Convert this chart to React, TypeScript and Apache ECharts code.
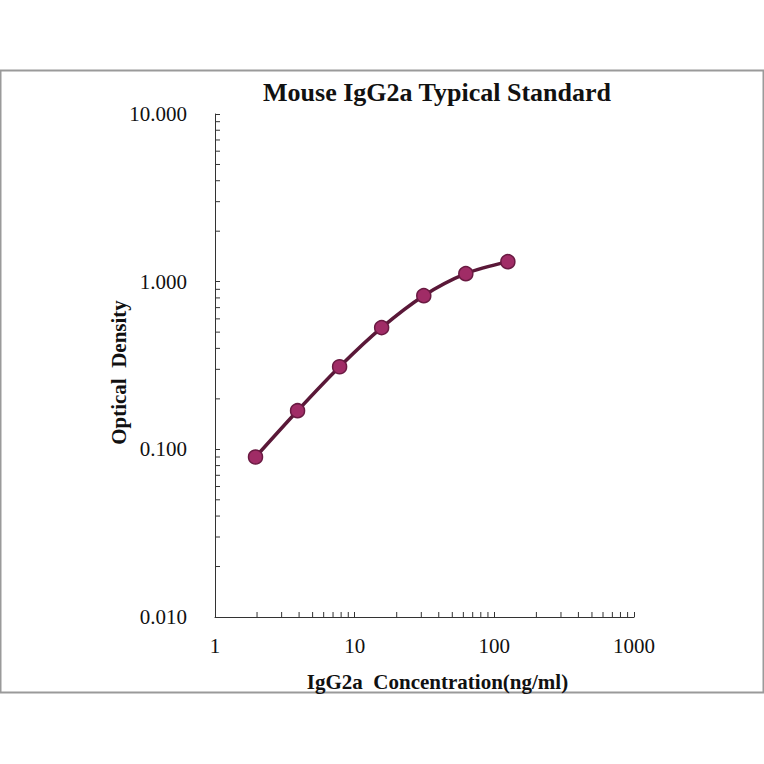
import React, { useEffect, useRef } from "react";
import * as echarts from "echarts";

const concentrations = [1.95, 3.9, 7.8, 15.6, 31.25, 62.5, 125];
const opticalDensity = [0.09, 0.17, 0.311, 0.532, 0.825, 1.116, 1.316];
const xMinorTicks = [2, 3, 4, 5, 6, 7, 8, 9, 20, 30, 40, 50, 60, 70, 80, 90, 200, 300, 400, 500, 600, 700, 800, 900];
const yMinorTicks = [0.02, 0.03, 0.04, 0.05, 0.06, 0.07, 0.08, 0.09, 0.2, 0.3, 0.4, 0.5, 0.6, 0.7, 0.8, 0.9, 2, 3, 4, 5, 6, 7, 8, 9];

const titleText = "Mouse IgG2a Typical Standard";
const xName = "IgG2a  Concentration(ng/ml)";
const yName = "Optical  Density";

const FONT = "'Liberation Serif', 'Times New Roman', serif";

export default function App() {
  const ref = useRef<HTMLDivElement>(null);
  useEffect(() => {
    if (!ref.current) return;
    const chart = echarts.init(ref.current, null, { renderer: "svg" });
    const tickColor = "#333";
    chart.setOption({
      animation: false,
      backgroundColor: "#fff",
      textStyle: { fontFamily: FONT },
      title: {
        text: titleText,
        left: 432,
        top: 74,
        textAlign: "center",
        textStyle: { fontFamily: FONT, fontSize: 26, fontWeight: "bold", color: "#111" },
      },
      graphic: [
        {
          type: "rect",
          shape: { x: 0.5, y: 70.5, width: 763, height: 622 },
          style: { fill: "none", stroke: "#9a9a9a", lineWidth: 2 },
          silent: true,
        },
      ],
      grid: { left: 215, right: 130, top: 114, bottom: 147 },
      xAxis: {
        type: "log",
        logBase: 10,
        min: 1,
        max: 1000,
        name: xName,
        nameLocation: "middle",
        nameGap: 54,
        nameMoveOverlap: false,
        nameTextStyle: { fontFamily: FONT, fontSize: 21, fontWeight: "bold", color: "#111", padding: [0, 0, 0, 26] },
        axisLine: { lineStyle: { color: tickColor, width: 1 } },
        axisTick: { inside: true, length: 5, lineStyle: { color: tickColor } },
        axisLabel: {
          margin: 18,
          fontFamily: FONT,
          fontSize: 21,
          color: "#111",
          formatter: (v: number) => String(Math.round(v)),
        },
        splitLine: { show: false },
      },
      yAxis: {
        type: "log",
        logBase: 10,
        min: 0.01,
        max: 10,
        name: yName,
        nameLocation: "middle",
        nameGap: 86,
        nameMoveOverlap: false,
        nameTextStyle: { fontFamily: FONT, fontSize: 21, fontWeight: "bold", color: "#111", padding: [0, 14, 0, 0] },
        axisLine: { lineStyle: { color: tickColor, width: 1 } },
        axisTick: { inside: true, length: 5, lineStyle: { color: tickColor } },
        axisLabel: {
          margin: 28,
          fontFamily: FONT,
          fontSize: 21,
          color: "#111",
          formatter: (v: number) => v.toFixed(3),
        },
        splitLine: { show: false },
      },
      series: [
        {
          type: "custom",
          silent: true,
          clip: false,
          data: xMinorTicks.map((v) => [v, 0.01]),
          renderItem: (params: any, api: any) => {
            const p = api.coord([api.value(0), api.value(1)]);
            return {
              type: "line",
              shape: { x1: p[0], y1: p[1], x2: p[0], y2: p[1] - 5 },
              style: { stroke: tickColor, lineWidth: 1 },
            };
          },
        },
        {
          type: "custom",
          silent: true,
          clip: false,
          data: yMinorTicks.map((v) => [1, v]),
          renderItem: (params: any, api: any) => {
            const p = api.coord([api.value(0), api.value(1)]);
            return {
              type: "line",
              shape: { x1: p[0], y1: p[1], x2: p[0] + 5, y2: p[1] },
              style: { stroke: tickColor, lineWidth: 1 },
            };
          },
        },
        {
          type: "line",
          data: concentrations.map((c, i) => [c, opticalDensity[i]]),
          smooth: 0.3,
          symbol: "circle",
          symbolSize: 14,
          lineStyle: { color: "#5a1838", width: 3.5 },
          itemStyle: { color: "#a02c66", borderColor: "#6a1a42", borderWidth: 1.5 },
          z: 5,
        },
      ],
    });
    return () => chart.dispose();
  }, []);
  return (
    <div
      ref={ref}
      style={{ position: "fixed", left: 0, top: 0, width: 764, height: 764, background: "#fff" }}
    />
  );
}
